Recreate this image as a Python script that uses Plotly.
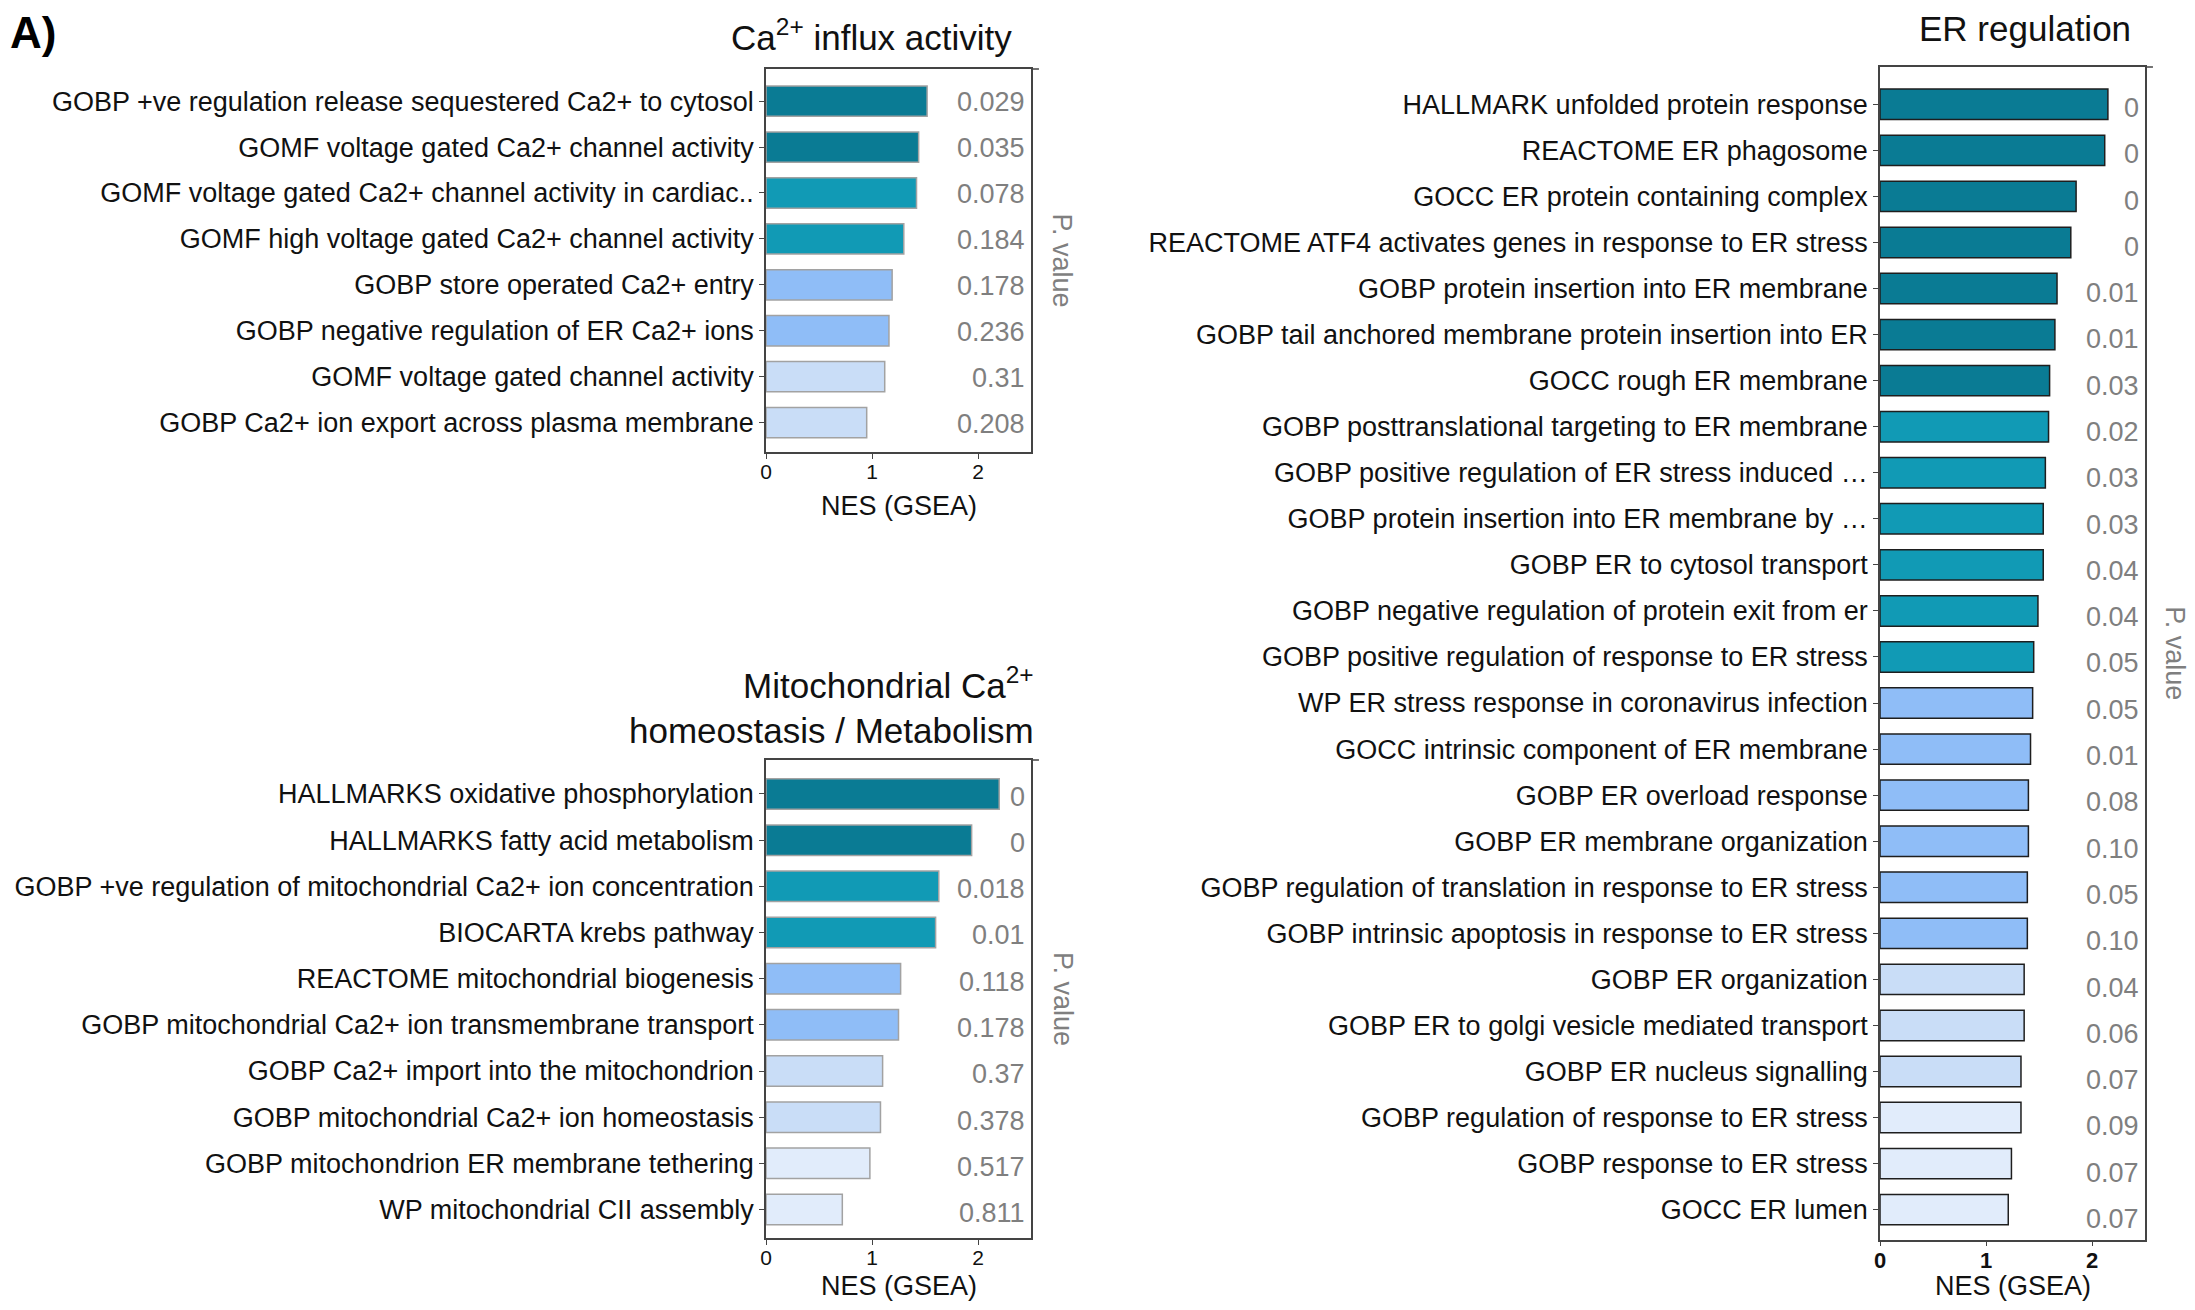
import plotly.graph_objects as go

# page is 2195x1310; browser body adds an 8px margin, so the figure is offset by 8px
OFF = 8
FW, FH = 2187, 1294
FONT = "Liberation Sans, Arial, Helvetica, sans-serif"

# ---------------- data ----------------
ca_labels = [
    "GOBP +ve regulation release sequestered Ca2+ to cytosol",
    "GOMF voltage gated Ca2+ channel activity",
    "GOMF voltage gated Ca2+ channel activity in cardiac..",
    "GOMF high voltage gated Ca2+ channel activity",
    "GOBP store operated Ca2+ entry",
    "GOBP negative regulation of ER Ca2+ ions",
    "GOMF voltage gated channel activity",
    "GOBP Ca2+ ion export across plasma membrane",
]
ca_nes = [1.52, 1.44, 1.42, 1.30, 1.19, 1.16, 1.12, 0.95]
ca_pval = ["0.029", "0.035", "0.078", "0.184", "0.178", "0.236", "0.31", "0.208"]
ca_tier = [0, 0, 1, 1, 2, 2, 3, 3]

mito_labels = [
    "HALLMARKS oxidative phosphorylation",
    "HALLMARKS fatty acid metabolism",
    "GOBP +ve regulation of mitochondrial Ca2+ ion concentration",
    "BIOCARTA krebs pathway",
    "REACTOME mitochondrial biogenesis",
    "GOBP mitochondrial Ca2+ ion transmembrane transport",
    "GOBP Ca2+ import into the mitochondrion",
    "GOBP mitochondrial Ca2+ ion homeostasis",
    "GOBP mitochondrion ER membrane tethering",
    "WP mitochondrial CII assembly",
]
mito_nes = [2.20, 1.94, 1.63, 1.60, 1.27, 1.25, 1.10, 1.08, 0.98, 0.72]
mito_pval = ["0", "0", "0.018", "0.01", "0.118", "0.178", "0.37", "0.378", "0.517", "0.811"]
mito_tier = [0, 0, 1, 1, 2, 2, 3, 3, 4, 4]

er_labels = [
    "HALLMARK unfolded protein response",
    "REACTOME ER phagosome",
    "GOCC ER protein containing complex",
    "REACTOME ATF4 activates genes in response to ER stress",
    "GOBP protein insertion into ER membrane",
    "GOBP tail anchored membrane protein insertion into ER",
    "GOCC rough ER membrane",
    "GOBP posttranslational targeting to ER membrane",
    "GOBP positive regulation of ER stress induced …",
    "GOBP protein insertion into ER membrane by …",
    "GOBP ER to cytosol transport",
    "GOBP negative regulation of protein exit from er",
    "GOBP positive regulation of response to ER stress",
    "WP ER stress response in coronavirus infection",
    "GOCC intrinsic component of ER membrane",
    "GOBP ER overload response",
    "GOBP ER membrane organization",
    "GOBP regulation of translation in response to ER stress",
    "GOBP intrinsic apoptosis in response to ER stress",
    "GOBP ER organization",
    "GOBP ER to golgi vesicle mediated transport",
    "GOBP ER nucleus signalling",
    "GOBP regulation of response to ER stress",
    "GOBP response to ER stress",
    "GOCC ER lumen",
]
er_nes = [2.15, 2.12, 1.85, 1.80, 1.67, 1.65, 1.60, 1.59, 1.56, 1.54, 1.54, 1.49, 1.45,
          1.44, 1.42, 1.40, 1.40, 1.39, 1.39, 1.36, 1.36, 1.33, 1.33, 1.24, 1.21]
er_pval = ["0", "0", "0", "0", "0.01", "0.01", "0.03", "0.02", "0.03", "0.03", "0.04", "0.04",
           "0.05", "0.05", "0.01", "0.08", "0.10", "0.05", "0.10", "0.04", "0.06", "0.07",
           "0.09", "0.07", "0.07"]
er_tier = [0, 0, 0, 0, 0, 0, 0, 1, 1, 1, 1, 1, 1, 2, 2, 2, 2, 2, 2, 3, 3, 3, 4, 4, 4]

nes_ticks = [0, 1, 2]

# ---------------- styles ----------------
palette = ["#0a7b94", "#119ab5", "#8fbdf7", "#c9ddf7", "#e1ecfb"]
AX = "#444444"
LBL = 27


def px_x(p):
    return (p - OFF) / FW


def px_y(p):
    return 1 - (p - OFF) / FH


fig = go.Figure()

panels = [
    dict(labels=ca_labels, nes=ca_nes, pval=ca_pval, tier=ca_tier,
         xpx=(766, 1031), ypx=(69, 452), pad=(0.70, 0.64), ppad=(0.71, 0.61),
         edge="#a2a2a2", bold=False, pv_x=1062),
    dict(labels=mito_labels, nes=mito_nes, pval=mito_pval, tier=mito_tier,
         xpx=(766, 1031), ypx=(760, 1238), pad=(0.736, 0.617), ppad=(0.793, 0.54),
         edge="#a2a2a2", bold=False, pv_x=1063),
    dict(labels=er_labels, nes=er_nes, pval=er_pval, tier=er_tier,
         xpx=(1880, 2145), ypx=(67, 1239.6), pad=(0.81, 0.65), ppad=(0.886, 0.446),
         edge="#1e1e1e", bold=True, pv_x=2175),
]

annotations = []
shapes = []
layout_axes = {}

for i, pnl in enumerate(panels):
    k = i + 1
    xs = "" if k == 1 else str(k)
    xa, ya, pa = "x" + xs, "y" + xs, "y" + str(k + 3)
    n = len(pnl["labels"])
    fig.add_trace(go.Bar(
        x=pnl["nes"], y=pnl["labels"], orientation="h",
        xaxis=xa, yaxis=ya, width=0.66,
        marker=dict(color=[palette[t] for t in pnl["tier"]],
                    line=dict(color=pnl["edge"], width=1.5)),
        showlegend=False, hoverinfo="x+y",
    ))
    fig.add_trace(go.Scatter(
        x=pnl["nes"], y=pnl["labels"], xaxis=xa, yaxis=pa,
        mode="markers", marker=dict(opacity=0), showlegend=False, hoverinfo="skip",
    ))
    xdom = [px_x(pnl["xpx"][0]), px_x(pnl["xpx"][1])]
    ydom = [px_y(pnl["ypx"][1]), px_y(pnl["ypx"][0])]
    tickfont = dict(size=22 if pnl["bold"] else 21, color="#111111", family=FONT,
                    weight="bold" if pnl["bold"] else "normal")
    layout_axes["xaxis" + xs] = dict(
        domain=xdom, anchor=ya, range=[0, 2.5], tickvals=nes_ticks,
        ticks="outside", ticklen=5, tickwidth=1.3, tickcolor=AX,
        showline=True, linecolor=AX, linewidth=1.5, mirror=True,
        showgrid=False, zeroline=False, tickfont=tickfont, ticklabelstandoff=-5,
        automargin=False, fixedrange=True,
    )
    layout_axes["yaxis" + xs] = dict(
        domain=ydom, anchor=xa, type="category", categoryorder="array",
        categoryarray=pnl["labels"],
        range=[n - 1 + pnl["pad"][1], -pnl["pad"][0]],
        ticks="outside", ticklen=5, tickwidth=1.3, tickcolor=AX,
        showline=True, linecolor=AX, linewidth=1.5, mirror=True,
        showgrid=False, zeroline=False,
        tickfont=dict(size=LBL, color="#111111", family=FONT),
        ticklabelstandoff=0, automargin=False, fixedrange=True,
    )
    layout_axes["yaxis" + str(k + 3)] = dict(
        overlaying=ya, anchor=xa, type="category", categoryorder="array",
        categoryarray=pnl["labels"],
        range=[n - 1 + pnl["ppad"][1], -pnl["ppad"][0]],
        visible=False, automargin=False, fixedrange=True,
    )
    for lab, pv in zip(pnl["labels"], pnl["pval"]):
        annotations.append(dict(
            x=1, xref=xa + " domain", y=lab, yref=pa, text=pv,
            xanchor="right", yanchor="middle", xshift=-4, showarrow=False,
            font=dict(size=LBL, color="#7f7f7f", family=FONT),
        ))
    annotations.append(dict(
        x=px_x(pnl["pv_x"]), xref="paper", y=0.5, yref=ya + " domain", text="P. value",
        textangle=90, xanchor="center", yanchor="middle", showarrow=False,
        font=dict(size=LBL, color="#7f7f7f", family=FONT),
    ))
    # x-axis title (kept inside the page bottom)
    title_center = min(pnl["ypx"][1] + 54, 1286)
    annotations.append(dict(
        x=0.5, xref=xa + " domain", y=0, yref=ya + " domain", text="NES (GSEA)",
        xanchor="center", yanchor="middle", yshift=-(title_center - pnl["ypx"][1]),
        showarrow=False, font=dict(size=LBL, color="#111111", family=FONT),
    ))
    shapes.append(dict(type="line", xref=xa + " domain", yref=ya + " domain",
                       x0=1, x1=1.03, y0=1, y1=1, line=dict(color=AX, width=1.5)))

# panel titles
annotations += [
    dict(x=px_x(1014), y=px_y(35), xref="paper", yref="paper", xanchor="right", yanchor="middle",
         text="Ca<sup>2+</sup> influx activity", showarrow=False,
         font=dict(size=35, color="#111111", family=FONT)),
    dict(x=px_x(1036), y=px_y(705), xref="paper", yref="paper", xanchor="right", yanchor="middle",
         align="right", text="Mitochondrial Ca<sup>2+</sup><br>homeostasis / Metabolism", showarrow=False,
         font=dict(size=35, color="#111111", family=FONT)),
    dict(x=px_x(2133), y=px_y(28), xref="paper", yref="paper", xanchor="right", yanchor="middle",
         text="ER regulation", showarrow=False,
         font=dict(size=35, color="#111111", family=FONT)),
    dict(x=0, y=1, xref="paper", yref="paper", xanchor="left", yanchor="top", yshift=2,
         text="<b>A)</b>", showarrow=False,
         font=dict(size=44, color="#000000", family=FONT)),
]

fig.update_layout(
    width=FW, height=FH, margin=dict(l=0, r=0, t=0, b=0),
    paper_bgcolor="white", plot_bgcolor="white", template="none",
    annotations=annotations, shapes=shapes,
    font=dict(family=FONT), **layout_axes,
)

fig.write_html("out.html")
